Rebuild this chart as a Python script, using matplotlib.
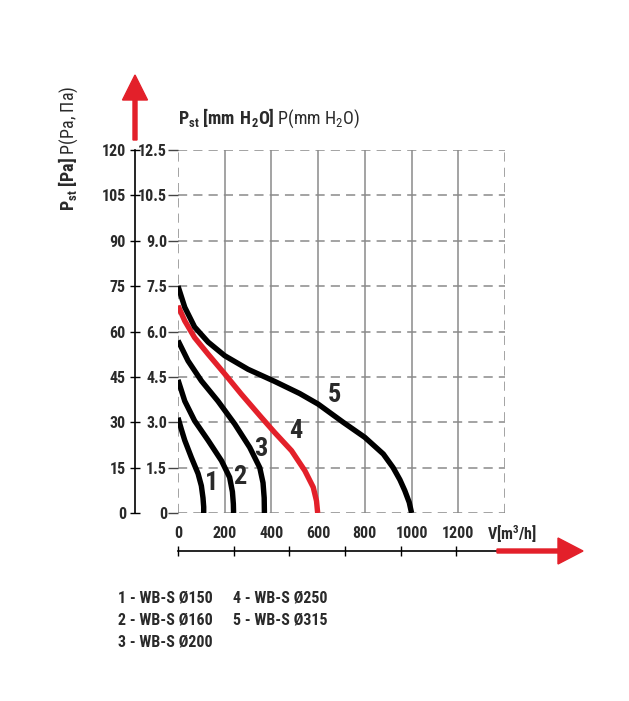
import matplotlib
matplotlib.use("Agg")
import matplotlib.pyplot as plt
from matplotlib import font_manager
from matplotlib.patches import FancyArrow
from matplotlib.transforms import IdentityTransform

# narrow face if we have one, otherwise condensed DejaVu
names = {f.name for f in font_manager.fontManager.ttflist}
FONT, STRETCH = "DejaVu Sans", "condensed"
for cand in ["Liberation Sans Narrow", "Roboto Condensed", "Open Sans Condensed"]:
    if cand in names:
        FONT, STRETCH = cand, "normal"
        break
plt.rcParams["font.family"] = [FONT, "DejaVu Sans"]
plt.rcParams["font.stretch"] = STRETCH
plt.rcParams["mathtext.fontset"] = "custom"
plt.rcParams["mathtext.rm"] = f"{FONT}:stretch={STRETCH}"
plt.rcParams["mathtext.bf"] = f"{FONT}:bold:stretch={STRETCH}"

RED = "#e3202a"
GRID = "#8a8a8a"
TXT = "#2a2a2a"

# ---- data ----
pa_ticks = [0, 15, 30, 45, 60, 75, 90, 105, 120]
mm_labels = ["0", "1.5", "3.0", "4.5", "6.0", "7.5", "9.0", "10.5", "12.5"]
v_ticks = [0, 200, 400, 600, 800, 1000, 1200]
bottom_ticks = [0, 238, 476, 715, 953, 1191]

c1_v = [0, 15, 29, 57, 86, 100, 107, 110, 110]
c1_p = [31.5, 27.5, 24, 18.4, 13, 9, 5, 2, 0]
c2_v = [0, 29, 71, 129, 186, 221, 233, 237, 238]
c2_p = [44, 37, 30.5, 24, 17.3, 11.8, 7, 3, 0]
c3_v = [0, 43, 100, 171, 243, 307, 350, 364, 369, 370]
c3_p = [57, 50.3, 43.7, 37, 29.4, 21.7, 15, 10, 5, 0]
c4_v = [0, 29, 71, 129, 200, 271, 357, 414, 486, 543, 579, 593, 598]
c4_p = [68.5, 63.5, 58, 52.5, 46, 39.3, 31.6, 26.6, 20.6, 14, 8.5, 4, 0]
c5_v = [0, 29, 71, 129, 200, 300, 414, 521, 600, 707, 800, 879, 921, 950, 971, 990, 1000]
c5_p = [75, 68, 61.5, 56.5, 52, 47.5, 43.5, 39.5, 36, 30, 25, 19.5, 15, 11, 7.4, 3.5, 0]

curves = [(c1_v, c1_p, "k"), (c2_v, c2_p, "k"), (c3_v, c3_p, "k"),
          (c4_v, c4_p, RED), (c5_v, c5_p, "k")]
curve_labels = ["1", "2", "3", "4", "5"]
label_pos = [(145, 10), (264, 12), (353, 21), (506, 27), (672, 39)]
legend_items = ["1 - WB-S Ø150", "2 - WB-S Ø160", "3 - WB-S Ø200",
                "4 - WB-S Ø250", "5 - WB-S Ø315"]

W, H = 629, 701
fig = plt.figure(figsize=(W / 100, H / 100), dpi=100)
ax = fig.add_axes([178 / W, (H - 513) / H, 327 / W, 363 / H])
ax.set_xlim(0, 1400)
ax.set_ylim(0, 120)
for s in ax.spines.values():
    s.set_visible(False)

# grid
for p in pa_ticks:
    ax.axhline(p, color=GRID, lw=1.1, ls=(0, (6, 4)), zorder=1)
for v in v_ticks[1:]:
    ax.axvline(v, color=GRID, lw=1.1, zorder=1)
for v in (0, 1400):
    ax.axvline(v, color=GRID, lw=1.1, ls=(0, (6, 4)), zorder=1)

# curves
for v, p, c in curves:
    ax.plot(v, p, color=c, lw=3.9, solid_capstyle="butt",
            solid_joinstyle="round", zorder=3)
for t, (x, y) in zip(curve_labels, label_pos):
    ax.text(x, y, t, fontsize=19, fontweight="bold", color=TXT,
            ha="center", va="center", zorder=4)

# mm H2O ticks on the plot edge
ax.set_yticks(pa_ticks)
ax.set_yticklabels(mm_labels, fontsize=11.5, fontweight="bold", color=TXT)
ax.tick_params(axis="y", length=7, width=1, color="#444444", pad=1)
ax.set_xticks(v_ticks)
ax.set_xticklabels([str(v) for v in v_ticks], fontsize=11.5, fontweight="bold", color=TXT)
ax.tick_params(axis="x", length=0, pad=9)
ax.text(1400 * (487 - 178) / 327, -6.9, r"V[m$^\mathbf{3}$/h]", fontsize=11.5,
        fontweight="bold", color=TXT, ha="left", va="center")

# Pa axis
sec = ax.secondary_yaxis((135 - 178) / 327)
sec.set_yticks(pa_ticks)
sec.set_yticklabels([str(p) for p in pa_ticks], fontsize=11.5, fontweight="bold", color=TXT)
sec.tick_params(axis="y", direction="inout", length=7, width=1, pad=3)
sec.spines["left"].set_linewidth(1.2)

# flow axis under the plot
secx = ax.secondary_xaxis(-(551 - 513) / 363)
secx.set_xticks(bottom_ticks)
secx.set_xticklabels([])
secx.tick_params(axis="x", direction="inout", length=7, width=1)
secx.spines["bottom"].set_linewidth(1.2)

# red arrows (pixel coordinates)
fig.add_artist(FancyArrow(497, H - 551, 86, 0, width=4, head_width=26,
                          head_length=25, length_includes_head=True,
                          color=RED, transform=IdentityTransform()))
fig.add_artist(FancyArrow(135, H - 140, 0, 65, width=4, head_width=25,
                          head_length=25, length_includes_head=True,
                          color=RED, transform=IdentityTransform()))

# axis titles
fig.text(178 / W, (H - 118) / H,
         r"$\mathbf{P}_{\mathbf{st}}$ $\mathbf{[mm\ H_2O]}$ P(mm H$_2$O)",
         fontsize=13, color=TXT, ha="left", va="center")
fig.text(68 / W, (H - 148) / H,
         r"$\mathbf{P}_{\mathbf{st}}$ $\mathbf{[Pa]}$ P(Pa, Па)",
         fontsize=13, color=TXT, ha="center", va="center", rotation=90)

# legend block
for i, t in enumerate(legend_items):
    col, row = divmod(i, 3)
    fig.text((118 + 115 * col) / W, (H - 598 - 22 * row) / H, t,
             fontsize=11.5, fontweight="bold", color=TXT, ha="left", va="center")

fig.savefig("out.png", dpi=100)
